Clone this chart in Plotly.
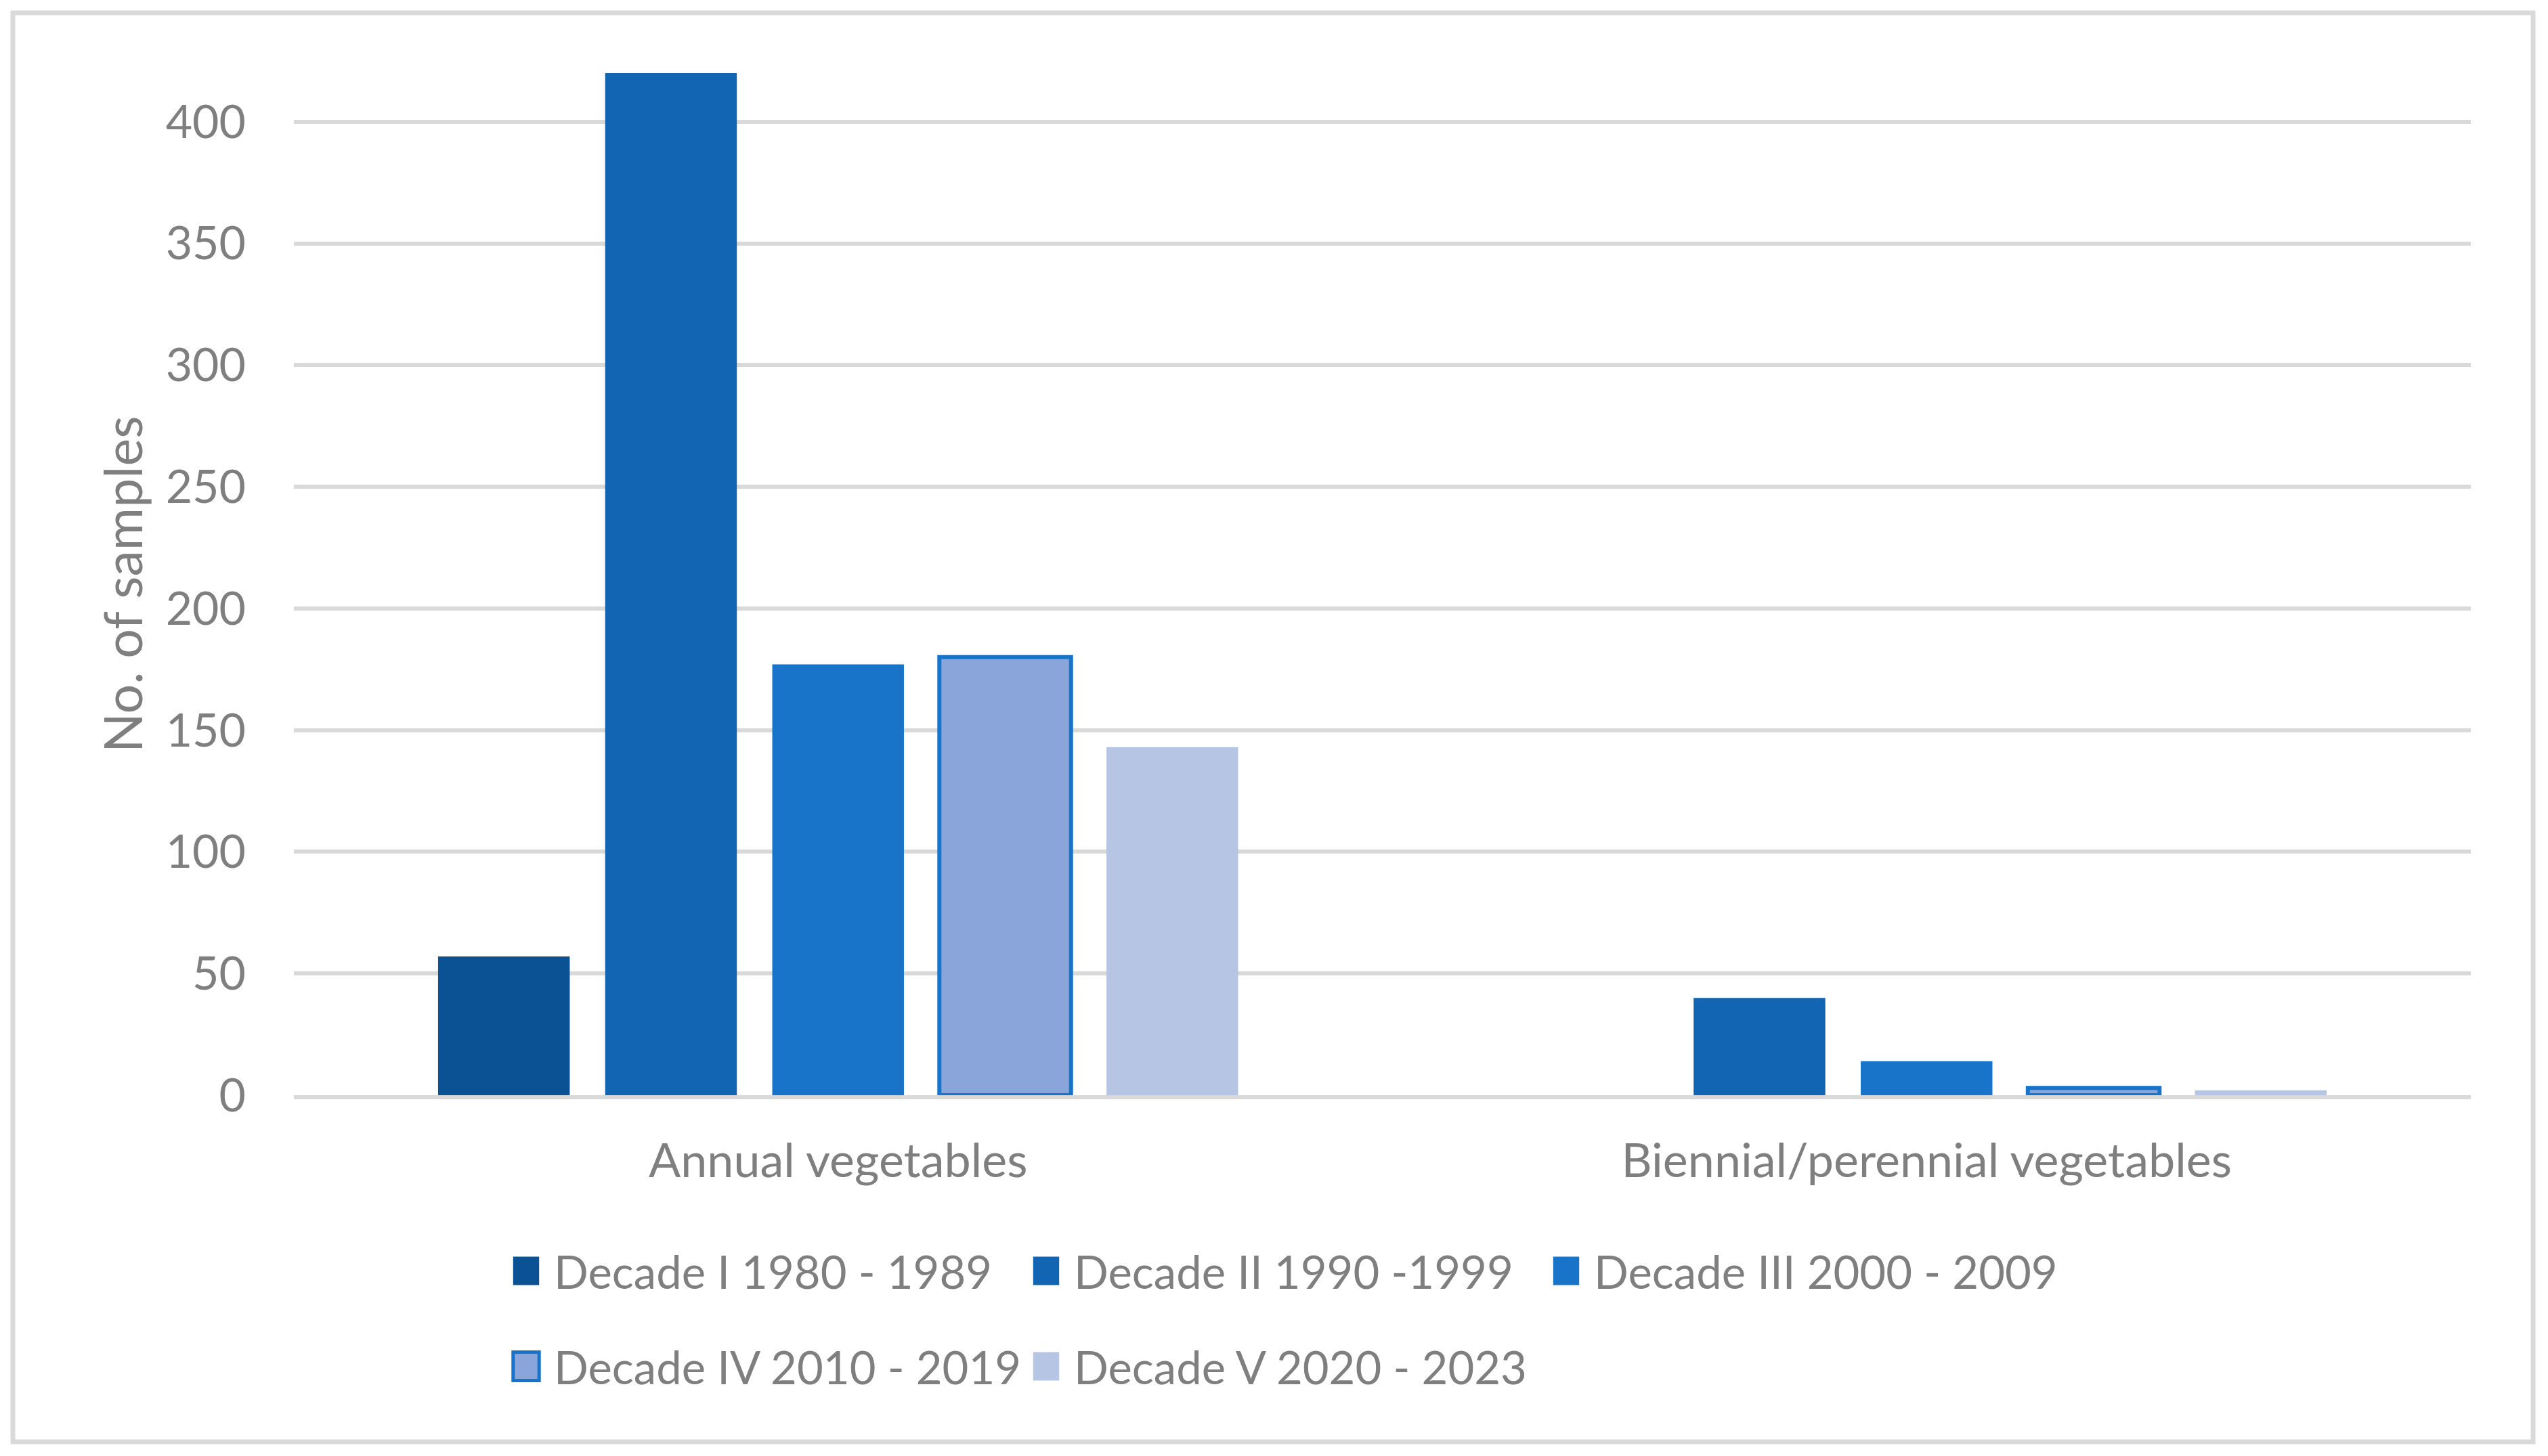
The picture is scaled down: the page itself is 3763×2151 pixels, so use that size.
import plotly.graph_objects as go

# ---------------- data ----------------
categories = ["Annual vegetables", "Biennial/perennial vegetables"]
series_names = [
    "Decade I 1980 - 1989",
    "Decade II 1990 -1999",
    "Decade III 2000 - 2009",
    "Decade IV 2010 - 2019",
    "Decade V 2020 - 2023",
]
decade_I = [57, 0]
decade_II = [420, 40]
decade_III = [177, 14]
decade_IV = [180, 3]
decade_V = [143, 2]
y_tick_values = [0, 50, 100, 150, 200, 250, 300, 350, 400]
y_title = "No. of samples"

# ---------------- style ----------------
W, H = 3763, 2151
OFF = 8  # page body margin offset
PL, PR, PT, PB = 434 - OFF, 3649 - OFF, 72 - OFF, 1618 - OFF   # plot area in pixels
Y_MAX = 430
FONT = "Lato, Carlito, Calibri, 'Open Sans', sans-serif"
TXT = "#7F7F7F"
GRID = "#D9D9D9"
fills = ["#0A5294", "#1165B2", "#1874C9", "#89A5D9", "#B6C5E4"]
edges = [None, None, None, "#1874C9", None]
legend_ids = ["legend", "legend", "legend", "legend2", "legend2"]


def px_x(p):
    return (p - OFF - PL) / (PR - PL)


def px_y(p):
    return (PB - (p - OFF)) / (PB - PT)


series_values = [decade_I, decade_II, decade_III, decade_IV, decade_V]

fig = go.Figure()
for name, vals, fc, ec, lg in zip(series_names, series_values, fills, edges, legend_ids):
    fig.add_trace(
        go.Bar(
            name=name,
            x=categories,
            y=vals,
            marker=dict(
                color=fc,
                line=dict(color=ec if ec else fc, width=6 if ec else 0),
            ),
            legend=lg,
            hoverinfo="x+y+name",
        )
    )

legend_common = dict(
    orientation="h",
    xanchor="left",
    yanchor="middle",
    x=px_x(778),
    font=dict(family=FONT, size=67, color=TXT),
    bgcolor="rgba(0,0,0,0)",
    borderwidth=0,
    entrywidth=723,
    entrywidthmode="pixels",
    itemclick=False,
    itemdoubleclick=False,
)

fig.update_layout(
    width=W,
    height=H,
    autosize=False,
    paper_bgcolor="white",
    plot_bgcolor="white",
    margin=dict(l=PL, r=W - PR, t=PT, b=H - PB, pad=0),
    barmode="group",
    bargap=0.2324,
    bargroupgap=0.212,
    font=dict(family=FONT, size=68, color=TXT),
    showlegend=True,
    legend=dict(**legend_common, y=px_y(1878)),
    legend2=dict(**legend_common, y=px_y(2019)),
    xaxis=dict(
        type="category",
        showgrid=False,
        showline=True,
        linecolor=GRID,
        linewidth=6,
        ticks="",
        tickfont=dict(family=FONT, size=70, color=TXT),
        ticklabelstandoff=31,
        fixedrange=True,
    ),
    yaxis=dict(
        range=[0, Y_MAX],
        tickvals=y_tick_values,
        ticktext=[str(v) for v in y_tick_values],
        showgrid=True,
        gridcolor=GRID,
        gridwidth=6,
        zeroline=False,
        showline=False,
        ticks="",
        tickfont=dict(family=FONT, size=68, color=TXT),
        ticklabelstandoff=70,
        fixedrange=True,
    ),
    annotations=[
        dict(
            text=y_title,
            textangle=-90,
            xref="paper",
            yref="paper",
            x=px_x(180),
            y=px_y(863),
            xanchor="center",
            yanchor="middle",
            showarrow=False,
            font=dict(family=FONT, size=77, color=TXT),
        )
    ],
    shapes=[
        dict(
            type="rect",
            xref="paper",
            yref="paper",
            x0=px_x(19),
            x1=px_x(3741),
            y0=px_y(2130),
            y1=px_y(19),
            line=dict(color=GRID, width=7),
            fillcolor="rgba(0,0,0,0)",
            layer="below",
        )
    ],
)

# enlarge the legend swatches to match the reference's larger rectangles
post = """
var gd = document.getElementById('{plot_id}');
function fixLegend(){
  gd.querySelectorAll('.scrollbox, .legendpoints, .traces').forEach(function(s){
    s.removeAttribute('clip-path');
  });
  gd.querySelectorAll('.infolayer [clip-path]').forEach(function(s){
    if (s.closest && s.closest('.infolayer') && s.querySelector && s.querySelector('.legendpoints')) {
      s.removeAttribute('clip-path');
    }
  });
  gd.querySelectorAll('.legendpoints path').forEach(function(p){
    p.setAttribute('transform', 'translate(-1,0) scale(3.2,3.5)');
    p.setAttribute('vector-effect', 'non-scaling-stroke');
  });
}
fixLegend();
if (gd.on) { gd.on('plotly_afterplot', fixLegend); }
"""

fig.write_html("out.html", config={"displayModeBar": False}, post_script=post)
